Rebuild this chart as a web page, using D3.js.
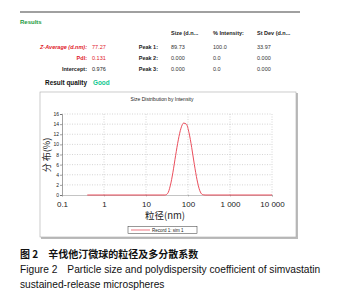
<!DOCTYPE html>
<html>
<head>
<meta charset="utf-8">
<script src="https://cdn.jsdelivr.net/npm/d3@7"></script>
<style>
  body { margin: 0; background: #fff; }
  svg { display: block; font-family: "Liberation Sans", Arial, sans-serif; }
</style>
</head>
<body>
<div id="chart"></div>
<script>
// sizes (nm) and intensity (%)
const sizes = [0.4, 28.2, 32.7, 37.8, 43.8, 50.7, 58.8, 68.1, 78.8, 91.3, 105.7, 122.4, 141.8, 164.2, 190.1, 220.2, 255, 10000];
const intensity = [0, 0, 0.3, 1.8, 4.5, 7.8, 10.9, 13.2, 14.2, 14.0, 12.3, 9.4, 6.0, 3.0, 0.9, 0.1, 0, 0];

const xTicks = [0.1, 1, 10, 100, 1000, 10000];
const xTickLabels = ["0.1", "1", "10", "100", "1 000", "10 000"];
const yTicks = [0, 2, 4, 6, 8, 10, 12, 14, 16];

const resultLabels = ["Z-Average (d.nm):", "PdI:", "Intercept:"];
const resultValues = ["77.27", "0.131", "0.976"];
const peakLabels = ["Peak 1:", "Peak 2:", "Peak 3:"];
const peakHeaders = ["Size (d.n...", "% Intensity:", "St Dev (d.n..."];
const peakSize = ["89.73", "0.000", "0.000"];
const peakIntensity = ["100.0", "0.0", "0.0"];
const peakStDev = ["33.97", "0.000", "0.000"];

const W = 343, H = 300;
const svg = d3.select("#chart").append("svg")
    .attr("width", W)
    .attr("height", H);

// RESULTS TABLE
svg.append("rect").attr("x", 20).attr("y", 11).attr("width", 280).attr("height", 2).attr("fill", "#a0a0a0");
svg.append("text").attr("x", 20).attr("y", 24).text("Results")
    .attr("font-size", 6).attr("font-weight", "bold").attr("fill", "#1a9a40");

const rowY = [47, 58, 69];
const resultColors = ["#e0202a", "#e0202a", "#222"];
resultLabels.forEach((l, i) => {
    svg.append("text").attr("x", 87).attr("y", rowY[i] + 2).attr("text-anchor", "end")
        .attr("font-size", 5.5).attr("font-weight", "bold").attr("fill", resultColors[i])
        .attr("font-style", i == 0 ? "italic" : "normal").text(l);
    svg.append("text").attr("x", 92).attr("y", rowY[i] + 2)
        .attr("font-size", 5.5).attr("fill", resultColors[i]).text(resultValues[i]);
});
svg.append("text").attr("x", 87).attr("y", 84.5).attr("text-anchor", "end")
    .attr("font-size", 6.4).attr("font-weight", "bold").attr("fill", "#111").text("Result quality");
svg.append("text").attr("x", 93).attr("y", 84.5)
    .attr("font-size", 6.4).attr("font-weight", "bold").attr("fill", "#10c890").text("Good");

const colX = [171, 213, 257];
peakHeaders.forEach((h, i) => {
    svg.append("text").attr("x", colX[i]).attr("y", 35)
        .attr("font-size", 5.5).attr("font-weight", "bold").attr("fill", "#222").text(h);
});
peakLabels.forEach((l, i) => {
    svg.append("text").attr("x", 158).attr("y", rowY[i] + 2).attr("text-anchor", "end")
        .attr("font-size", 5.5).attr("font-weight", "bold").attr("fill", "#222").text(l);
    [peakSize, peakIntensity, peakStDev].forEach((col, j) => {
        svg.append("text").attr("x", colX[j]).attr("y", rowY[i] + 2)
            .attr("font-size", 5.5).attr("fill", "#333").text(col[i]);
    });
});

// CHART BOX
svg.append("rect").attr("x", 41).attr("y", 93).attr("width", 257).attr("height", 146).attr("fill", "#bbb");
svg.append("rect").attr("x", 40).attr("y", 92).attr("width", 256).attr("height", 145)
    .attr("fill", "#fff").attr("stroke", "#aaa").attr("stroke-width", 0.6);

svg.append("text").attr("x", 162).attr("y", 101).attr("text-anchor", "middle")
    .attr("font-size", 5).attr("fill", "#222").text("Size Distribution by Intensity");

// SCALES
const x = d3.scaleLog().domain([0.1, 10000]).range([62, 272]);
const y = d3.scaleLinear().domain([0, 16]).range([195, 114]);

// GRID
svg.append("g").selectAll("line").data(yTicks.slice(1)).enter().append("line")
    .attr("x1", x(0.1)).attr("x2", x(10000))
    .attr("y1", d => y(d)).attr("y2", d => y(d))
    .attr("stroke", "#aaa").attr("stroke-width", 0.5).attr("stroke-dasharray", "1,1.5");
svg.append("g").selectAll("line").data(xTicks.slice(1)).enter().append("line")
    .attr("x1", d => x(d)).attr("x2", d => x(d))
    .attr("y1", y(0)).attr("y2", y(16))
    .attr("stroke", "#aaa").attr("stroke-width", 0.5).attr("stroke-dasharray", "1,1.5");

// AXES
const yAxis = svg.append("g")
    .attr("transform", "translate(" + x(0.1) + ",0)")
    .call(d3.axisLeft(y).tickValues(yTicks).tickSize(2).tickPadding(1));
yAxis.selectAll("text").attr("font-size", 5).attr("fill", "#222");
yAxis.selectAll("line, path").attr("stroke", "#444").attr("stroke-width", 0.5);

const xAxis = svg.append("g")
    .attr("transform", "translate(0," + y(0) + ")")
    .call(d3.axisBottom(x).tickValues(xTicks).tickFormat((d, i) => xTickLabels[i]).tickSize(1.5).tickPadding(5));
xAxis.selectAll("text").attr("font-size", 8).attr("fill", "#222");
xAxis.selectAll("line, path").attr("stroke", "#888").attr("stroke-width", 0.5);

// CURVE
const pts = sizes.map((s, i) => ({ s: s, v: intensity[i] }));
const line = d3.line().x(d => x(d.s)).y(d => y(d.v)).curve(d3.curveMonotoneX);
svg.append("path").datum(pts).attr("d", line)
    .attr("fill", "none").attr("stroke", "#e83a4a").attr("stroke-width", 0.9);

// AXIS LABELS
svg.append("text").attr("transform", "translate(50,155) rotate(-90)").attr("text-anchor", "middle")
    .attr("font-size", 9).attr("font-family", "Noto Sans CJK SC").attr("fill", "#222").text("分 布(%)");
svg.append("text").attr("x", 165).attr("y", 219).attr("text-anchor", "middle")
    .attr("font-size", 9.5).attr("font-family", "Noto Sans CJK SC").attr("fill", "#222").text("粒径(nm)");

// LEGEND
svg.append("rect").attr("x", 128).attr("y", 226.5).attr("width", 69).attr("height", 7)
    .attr("fill", "#fff").attr("stroke", "#333").attr("stroke-width", 0.5);
svg.append("line").attr("x1", 131).attr("x2", 150).attr("y1", 230).attr("y2", 230)
    .attr("stroke", "#e83a4a").attr("stroke-width", 0.7);
svg.append("text").attr("x", 152).attr("y", 232).attr("font-size", 4.5).attr("fill", "#222").text("Record 1: sim 1");

// CAPTION
svg.append("text").attr("x", 20).attr("y", 258).attr("font-size", 10).attr("font-weight", "bold")
    .attr("font-family", "Noto Sans CJK SC").attr("fill", "#111").text("图 2　辛伐他汀微球的粒径及多分散系数");
svg.append("text").attr("x", 20).attr("y", 273).attr("font-size", 10.2).attr("fill", "#111")
    .text("Figure 2　Particle size and polydispersity coefficient of simvastatin");
svg.append("text").attr("x", 20).attr("y", 288).attr("font-size", 10.2).attr("fill", "#111")
    .text("sustained-release microspheres");
</script>
</body>
</html>
